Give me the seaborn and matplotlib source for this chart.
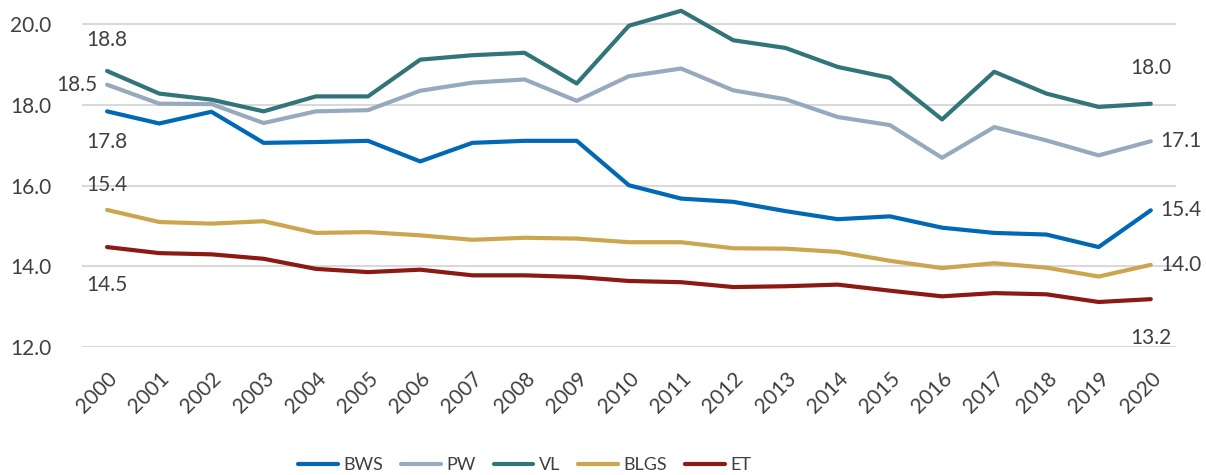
import matplotlib
matplotlib.use("Agg")
import matplotlib.pyplot as plt
import seaborn as sns
import pandas as pd
from matplotlib.lines import Line2D

years = list(range(2000, 2021))
bws = [17.84, 17.54, 17.83, 17.06, 17.08, 17.11, 16.60, 17.06, 17.11, 17.11, 16.01,
       15.68, 15.60, 15.37, 15.17, 15.24, 14.96, 14.83, 14.79, 14.48, 15.39]
pw = [18.50, 18.03, 18.02, 17.55, 17.84, 17.87, 18.35, 18.55, 18.63, 18.10, 18.71,
      18.90, 18.36, 18.14, 17.70, 17.50, 16.69, 17.45, 17.12, 16.75, 17.10]
vl = [18.84, 18.28, 18.13, 17.84, 18.21, 18.21, 19.12, 19.23, 19.29, 18.53, 19.96,
      20.33, 19.60, 19.41, 18.94, 18.67, 17.64, 18.82, 18.28, 17.95, 18.03]
blgs = [15.40, 15.10, 15.06, 15.12, 14.83, 14.85, 14.77, 14.66, 14.71, 14.69, 14.60,
        14.60, 14.45, 14.44, 14.36, 14.14, 13.96, 14.08, 13.97, 13.75, 14.04]
et = [14.48, 14.33, 14.30, 14.19, 13.94, 13.86, 13.92, 13.78, 13.78, 13.74, 13.64,
      13.61, 13.49, 13.51, 13.55, 13.40, 13.26, 13.34, 13.31, 13.12, 13.19]
series_names = ["BWS", "PW", "VL", "BLGS", "ET"]
first_labels = ["17.8", "18.5", "18.8", "15.4", "14.5"]
last_labels = ["15.4", "17.1", "18.0", "14.0", "13.2"]
colors = ["#0068B5", "#97AABD", "#31747A", "#CCA64E", "#8C1914"]

sns.set_theme(style="white")
plt.rcParams['font.family'] = ['Lato', 'DejaVu Sans']
text_color = "#404040"

frames = []
for name, vals in zip(series_names, [bws, pw, vl, blgs, et]):
    frames.append(pd.DataFrame({"Year": years, "Value": vals, "Series": name}))
df = pd.concat(frames, ignore_index=True)

fig = plt.figure(figsize=(12.06, 4.75), dpi=100)
ax = fig.add_axes([0.068, 0.269, 0.907, 0.727])
sns.lineplot(data=df, x="Year", y="Value", hue="Series", hue_order=series_names,
             palette=colors, linewidth=3.0, ax=ax, legend=False)

ax.set_ylim(12, 20.55)
ax.set_xlim(1999.52, 2020.48)
ax.set_yticks([12, 14, 16, 18, 20])
ax.set_yticklabels([f"{v:.1f}" for v in [12, 14, 16, 18, 20]], fontsize=15, color=text_color)
ax.set_xticks(years)
ax.set_xticklabels([str(y) for y in years], rotation=45, ha="right", va="top",
                   rotation_mode="anchor", fontsize=15, color=text_color)
ax.tick_params(axis="y", length=0, pad=22)
ax.tick_params(axis="x", length=0, pad=15)
ax.grid(axis="y", color="#D9D9D9", linewidth=1.5)
ax.set_axisbelow(True)
for s in ax.spines.values():
    s.set_visible(False)
ax.set_xlabel("")
ax.set_ylabel("")

# data labels
data = [bws, pw, vl, blgs, et]
first_offsets = [(0, -22), (-22, 0), (0, 22), (0, 18), (0, -27)]
last_offsets = [(22, 0), (22, 0), (0, 26), (22, 0), (0, -28)]
for i in range(5):
    ax.annotate(first_labels[i], (years[0], data[i][0]), xytext=first_offsets[i],
                textcoords="offset points", ha="center", va="center",
                fontsize=15, color=text_color)
    ax.annotate(last_labels[i], (years[-1], data[i][-1]), xytext=last_offsets[i],
                textcoords="offset points", ha="center", va="center",
                fontsize=15, color=text_color)

handles = [Line2D([0], [0], color=c, linewidth=3.0, solid_capstyle="round") for c in colors]
fig.legend(handles, series_names, loc="lower center", ncol=5, frameon=False,
           bbox_to_anchor=(0.435, -0.03), fontsize=13, handlelength=2.2,
           columnspacing=1.0, handletextpad=0.3, labelcolor=text_color)

fig.savefig("out.png", dpi=100)
